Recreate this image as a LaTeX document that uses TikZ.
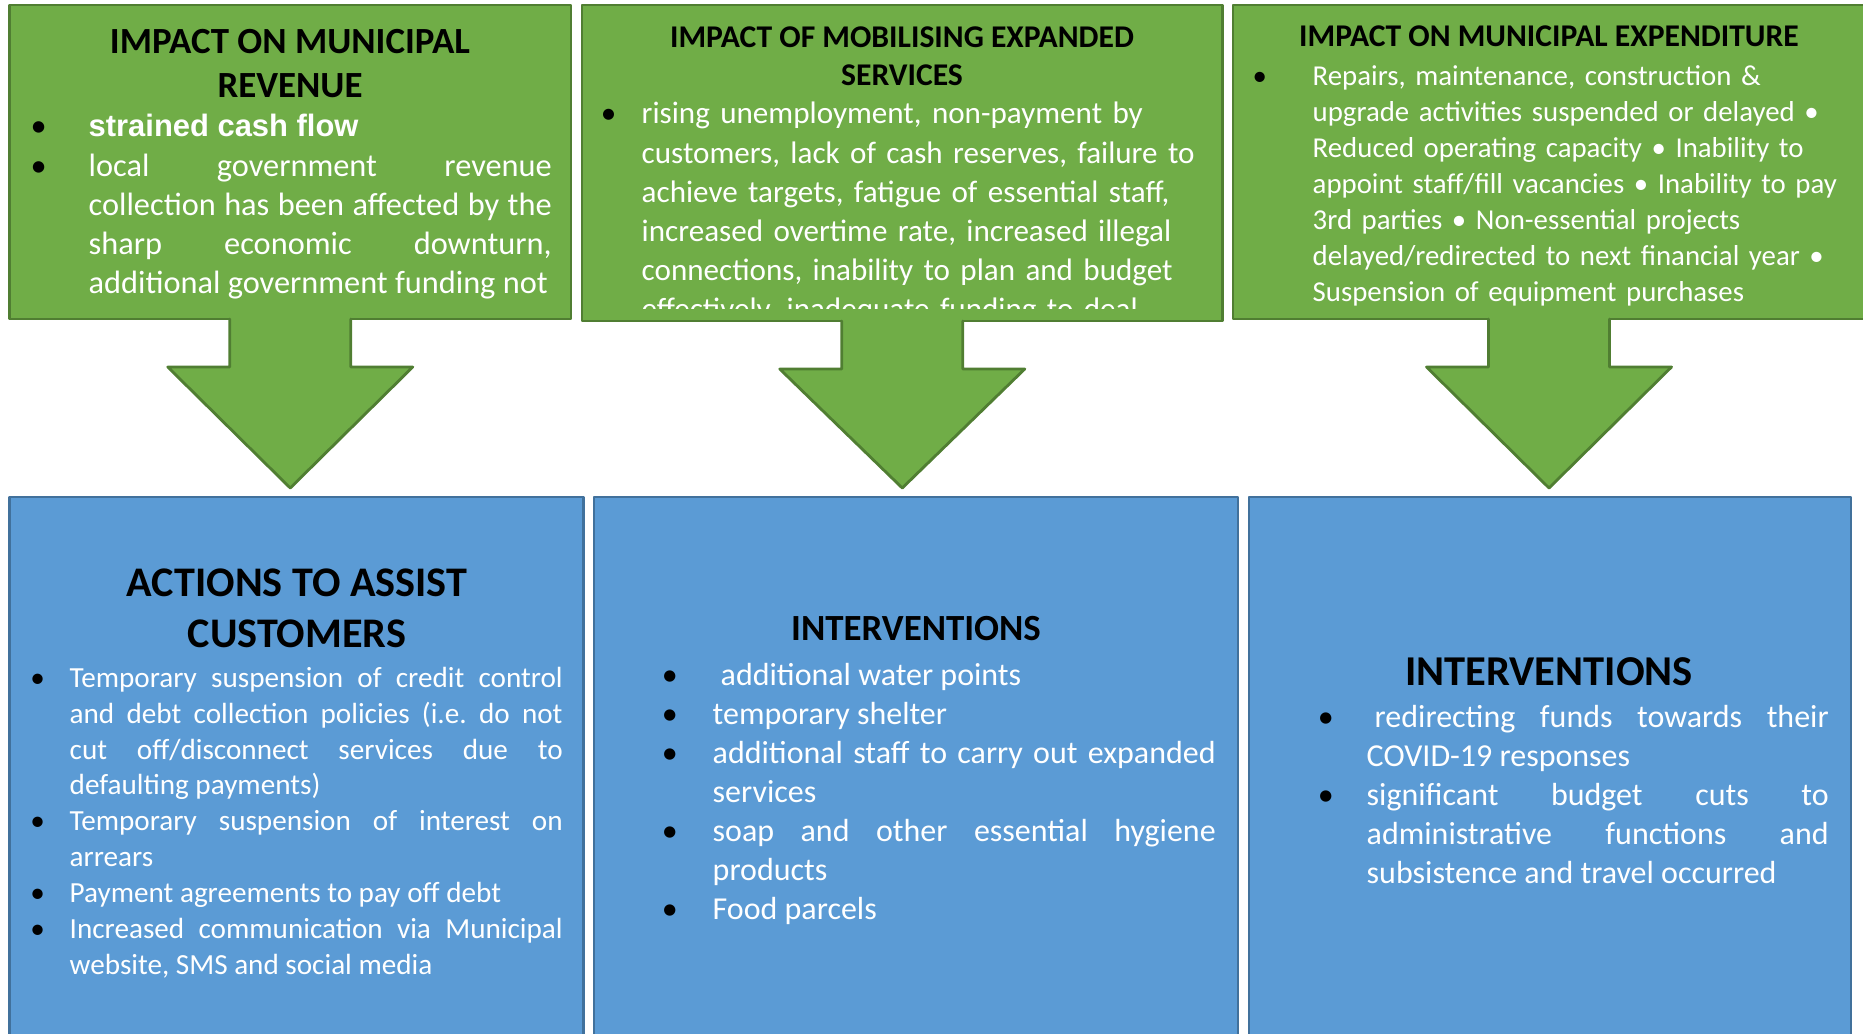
\documentclass[tikz,border=0pt]{standalone}
\usepackage{fontspec}
\setmainfont{Carlito}
\newfontfamily\arialfont{Liberation Sans}
\usetikzlibrary{calc, positioning}
\definecolor{grnfill}{RGB}{112, 173, 71}
\definecolor{grnline}{RGB}{80, 126, 50}
\definecolor{bluefill}{RGB}{91, 155, 213}
\definecolor{blueline}{RGB}{65, 113, 156}
\frenchspacing

% black list bullet, centred #1 to the left of the text
\newcommand{\bitem}[1]{\noindent\llap{\makebox[0pt]{\textcolor{black}{\textbullet}}\hspace{#1}}}

\tikzset{
  greenbox/.style={rectangle, draw=grnline, fill=grnfill, line width=0.8pt, inner sep=0pt, outer sep=0pt, anchor=north west},
  bluebox/.style={rectangle, draw=blueline, fill=bluefill, line width=0.8pt, inner sep=0pt, outer sep=0pt, anchor=north west},
  boxtitle/.style={text=black, align=center, anchor=base, inner sep=0pt},
  boxbody/.style={text=white, anchor=base west, inner sep=0pt},
}

\begin{document}
\begin{tikzpicture}[line cap=round, line join=round]
	\useasboundingbox (0,0) rectangle (18.63,10.33);
	\clip (0,0) rectangle (18.63,10.33);

	% -- Impact boxes (top row) --
	\node[greenbox, minimum width=5.615cm, minimum height=3.14cm] (rev) at (0.095,10.28) {};
	\node[greenbox, minimum width=6.405cm, minimum height=3.16cm] (mob) at (5.82,10.28) {};
	\node[greenbox, minimum width=6.32cm, minimum height=3.14cm] (exp) at (12.33,10.28) {};

	% -- Response boxes (bottom row) --
	\node[bluebox, minimum width=5.74cm, minimum height=5.8cm] (act) at (0.095,5.36) {};
	\node[bluebox, minimum width=6.44cm, minimum height=5.8cm] (mobint) at (5.94,5.36) {};
	\node[bluebox, minimum width=6.02cm, minimum height=5.8cm] (expint) at (12.49,5.36) {};

	% -- Block arrows from impact to response --
	\foreach \g/\b in {rev/act, mob/mobint, exp/expint} {
		\coordinate (s) at (\g.south);
		\coordinate (t) at ($(\g.south |- \b.north)+(0,0.09)$);
		\fill[grnfill] ($(s)+(-0.605,0.04)$) -- ($(s)+(-0.605,-0.48)$) -- ($(s)+(-1.225,-0.48)$) -- (t)
			-- ($(s)+(1.225,-0.48)$) -- ($(s)+(0.605,-0.48)$) -- ($(s)+(0.605,0.04)$) -- cycle;
		\draw[grnline, line width=0.8pt] ($(s)+(-0.605,0)$) -- ($(s)+(-0.605,-0.48)$) -- ($(s)+(-1.225,-0.48)$) -- (t)
			-- ($(s)+(1.225,-0.48)$) -- ($(s)+(0.605,-0.48)$) -- ($(s)+(0.605,0)$);
	}

	% -- Revenue --
	\node[boxtitle, font={\fontsize{10.5}{12.8}\selectfont\bfseries}] (revtitle) at (2.90,9.35) {IMPACT ON MUNICIPAL\\REVENUE};
	\node[boxbody, text width=4.63cm, align=justify, font={\fontsize{9.2}{11.1}\selectfont\hyphenpenalty=10000\tolerance=10000}] (revtext) at (0.88,8.96)
		{\bitem{0.5cm}{\arialfont\bfseries\fontsize{8.8}{11.1}\selectfont strained cash flow}\par
		 \bitem{0.5cm}local government revenue\linebreak collection has been affected by the\linebreak sharp economic downturn,\linebreak additional government funding not};

	% -- Expanded services (text runs past the box) --
	\node[boxtitle, font={\fontsize{9}{11}\selectfont\bfseries}] (mobtitle) at (9.02,9.47) {IMPACT OF MOBILISING EXPANDED\\SERVICES};
	\begin{scope}
		\clip (5.82,10.28) rectangle (12.22,7.24);
		\node[boxbody, text width=5.7cm, align=left, font={\fontsize{8.85}{11.1}\selectfont}] (mobtext) at (6.41,9.09)
			{\bitem{0.33cm}rising unemployment, non-payment by\\ customers, lack of cash reserves, failure to\\ achieve targets, fatigue of essential staff,\\ increased overtime rate, increased illegal\\ connections, inability to plan and budget\\ effectively, inadequate funding to deal};
	\end{scope}

	% -- Expenditure --
	\node[boxtitle, font={\fontsize{9}{11}\selectfont\bfseries}] (exptitle) at (15.49,9.86) {IMPACT ON MUNICIPAL EXPENDITURE};
	\node[boxbody, text width=5.45cm, align=left, font={\fontsize{8.2}{10.2}\selectfont}] (exptext) at (13.12,9.47)
		{\bitem{0.53cm}Repairs, maintenance, construction \&\\ upgrade activities suspended or delayed \textbullet\\ Reduced operating capacity \textbullet{} Inability to\\ appoint staff/fill vacancies \textbullet{} Inability to pay\\ 3rd parties \textbullet{} Non-essential projects\\ delayed/redirected to next financial year \textbullet\\ Suspension of equipment purchases};

	% -- Actions to assist customers --
	\node[boxtitle, font={\fontsize{12}{14.5}\selectfont\bfseries}] (acttitle) at (2.97,3.86) {ACTIONS TO ASSIST\\CUSTOMERS};
	\node[boxbody, text width=4.93cm, align=justify, font={\fontsize{8.3}{10.2}\selectfont\hyphenpenalty=10000\tolerance=10000}] (acttext) at (0.69,3.456)
		{\bitem{0.32cm}Temporary suspension of credit control\linebreak and debt collection policies (i.e. do not\linebreak cut off/disconnect services due to\linebreak defaulting payments)\par
		 \bitem{0.32cm}Temporary suspension of interest on\linebreak arrears\par
		 \bitem{0.32cm}Payment agreements to pay off debt\par
		 \bitem{0.32cm}Increased communication via Municipal\linebreak website, SMS and social media};

	% -- Interventions (services) --
	\node[boxtitle, font={\fontsize{10.5}{12.8}\selectfont\bfseries}] (mobinttitle) at (9.16,3.93) {INTERVENTIONS};
	\node[boxbody, text width=5.03cm, align=justify, font={\fontsize{9.1}{11.1}\selectfont\hyphenpenalty=10000\tolerance=10000}] (mobinttext) at (7.12,3.476)
		{\bitem{0.43cm}\hspace{0.08cm}additional water points\par
		 \bitem{0.43cm}temporary shelter\par
		 \bitem{0.43cm}additional staff to carry out expanded\linebreak services\par
		 \bitem{0.43cm}soap and other essential hygiene\linebreak products\par
		 \bitem{0.43cm}Food parcels};

	% -- Interventions (expenditure) --
	\node[boxtitle, font={\fontsize{12.1}{14.5}\selectfont\bfseries}] (expinttitle) at (15.49,3.48) {INTERVENTIONS};
	\node[boxbody, text width=4.62cm, align=justify, font={\fontsize{9.1}{11.1}\selectfont\hyphenpenalty=10000\tolerance=10000}] (expinttext) at (13.66,3.056)
		{\bitem{0.41cm}\hspace{0.08cm}redirecting funds towards their\linebreak COVID-19 responses\par
		 \bitem{0.41cm}significant budget cuts to\linebreak administrative functions and\linebreak subsistence and travel occurred};

\end{tikzpicture}
\end{document}
